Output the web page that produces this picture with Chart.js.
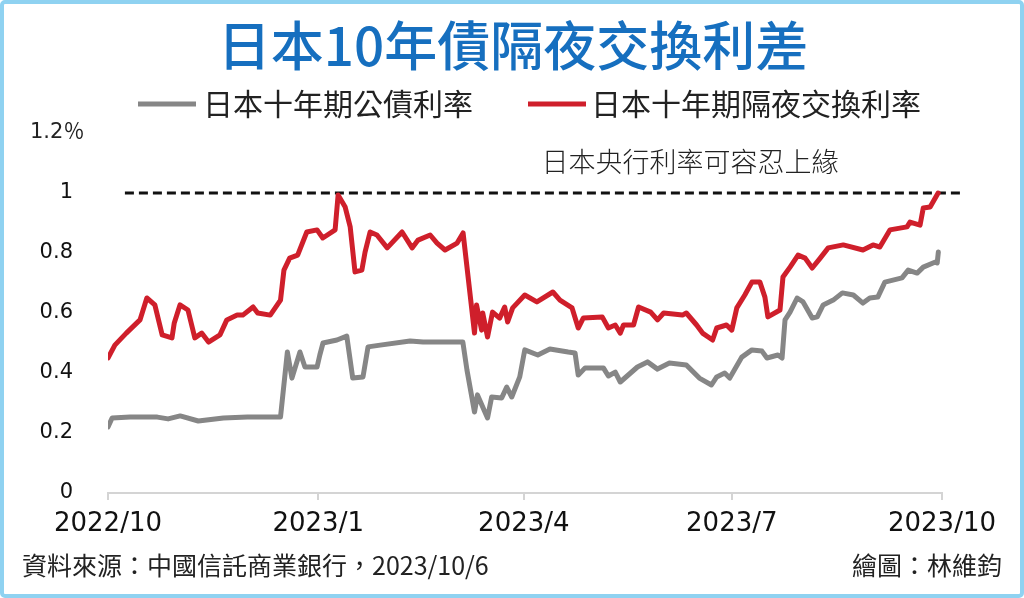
<!DOCTYPE html>
<html>
<head>
<meta charset="utf-8">
<script src="https://cdn.jsdelivr.net/npm/chart.js@4.4.0/dist/chart.umd.min.js"></script>
<style>
  html, body { margin: 0; padding: 0; background: #fff; overflow: hidden; }
  #wrap { position: relative; width: 1024px; height: 598px; }
  #frame {
    position: absolute; left: 0; top: 0; right: 0; bottom: 0;
    border: 4px solid #8fd2f1; border-radius: 5px; box-sizing: border-box;
    pointer-events: none;
  }
</style>
</head>
<body>
<div id="wrap">
  <canvas id="chart"></canvas>
  <div id="frame"></div>
</div>
<script>
const titleText = "日本10年債隔夜交換利差";
const seriesNames = ["日本十年期公債利率", "日本十年期隔夜交換利率"];
const capLabel = "日本央行利率可容忍上緣";
const sourceText = "資料來源：中國信託商業銀行，2023/10/6";
const authorText = "繪圖：林維鈞";

// x = days since 2022/10/1
const tickDays = [0, 92, 182, 273, 365];
const tickLabels = ["2022/10", "2023/1", "2023/4", "2023/7", "2023/10"];
const yTicks = [0, 0.2, 0.4, 0.6, 0.8, 1, 1.2];

// 日本十年期公債利率
const jgbDays = [0, 1.8, 9.7, 21.6, 26.3, 31.6, 39.5, 50.5, 61, 75.5, 78.5, 80.5, 84, 86.2, 91.5, 92.7, 94.1,
  100.2, 104.5, 107.1, 111.6, 113.8, 119.1, 132.2, 137.9, 155.3, 157.1, 160.4, 161.7, 166.1, 167.9, 172.3,
  174.5, 176.7, 180.2, 182.4, 188.1, 193.4, 201.4, 204.4, 205.8, 208.8, 216.8, 219, 222, 224.2, 228.7,
  231.7, 236.1, 240.5, 245.7, 253.1, 258.8, 264.1, 266.4, 269.9, 272.1, 277.4, 281.8, 286.2, 288.4, 293.2,
  295, 296.3, 298.5, 301.6, 304.2, 308.2, 310.4, 313, 317.4, 321.4, 326.2, 330.4, 333.4, 336.9, 340,
  347.5, 350.2, 354.1, 356.8, 362.1, 362.9, 363.4];
const jgbVals = [0.22, 0.25, 0.253, 0.253, 0.247, 0.257, 0.24, 0.25, 0.253, 0.253, 0.47, 0.383, 0.47, 0.42, 0.42, 0.46, 0.50,
  0.51, 0.523, 0.383, 0.387, 0.487, 0.493, 0.507, 0.503, 0.503, 0.41, 0.27, 0.327, 0.25, 0.32, 0.317,
  0.353, 0.32, 0.387, 0.477, 0.46, 0.48, 0.47, 0.467, 0.393, 0.417, 0.417, 0.39, 0.403, 0.37, 0.40,
  0.42, 0.437, 0.413, 0.433, 0.427, 0.383, 0.36, 0.387, 0.40, 0.383, 0.453, 0.477, 0.473, 0.45, 0.46,
  0.45, 0.577, 0.603, 0.65, 0.637, 0.583, 0.587, 0.627, 0.643, 0.667, 0.66, 0.633, 0.65, 0.653, 0.703,
  0.717, 0.743, 0.733, 0.753, 0.77, 0.767, 0.803];

// 日本十年期隔夜交換利率
const oisDays = [0, 3, 8, 14, 17, 20.5, 23.7, 28, 29, 31.5, 35, 38, 41, 44, 49, 52, 56.5, 59, 63.5, 65.5,
  71, 75.5, 77, 79.5, 83, 87, 91.5, 94, 99.4, 100.7, 103.8, 106, 108.1, 111.1, 112.5, 114.7, 117.7, 122.2,
  128.7, 133.1, 135.7, 141, 144, 147.5, 152.8, 155.4, 160.4, 161.3, 163.5, 164, 166.1, 168.3, 171.4, 173.6,
  174.9, 177.1, 182.4, 187.7, 194.7, 197.8, 203.1, 205.8, 208, 216.3, 219, 222, 224.2, 225.6, 230, 232.2,
  237.5, 240.5, 243.2, 251.4, 253.1, 257.6, 260.2, 264.6, 266.4, 270.7, 273, 275.2, 278.7, 281.8, 285.3,
  287.5, 288.8, 294.1, 295.4, 298.5, 302, 305.1, 308.2, 311.7, 315.2, 321.8, 330.4, 334.8, 337.8, 342.2,
  349.7, 351, 355.4, 356.8, 359.8, 363.3];
const oisVals = [0.45, 0.493, 0.533, 0.577, 0.65, 0.627, 0.527, 0.517, 0.567, 0.627, 0.61, 0.517, 0.533, 0.503, 0.527, 0.577, 0.593, 0.593, 0.62, 0.60,
  0.593, 0.643, 0.743, 0.783, 0.793, 0.87, 0.877, 0.85, 0.877, 0.993, 0.953, 0.887, 0.737, 0.743, 0.803, 0.87, 0.86, 0.817,
  0.87, 0.817, 0.843, 0.86, 0.833, 0.81, 0.833, 0.867, 0.533, 0.627, 0.543, 0.60, 0.52, 0.603, 0.583, 0.62,
  0.57, 0.617, 0.66, 0.637, 0.67, 0.643, 0.617, 0.55, 0.583, 0.587, 0.55, 0.56, 0.533, 0.56, 0.56, 0.62,
  0.603, 0.577, 0.60, 0.593, 0.60, 0.56, 0.533, 0.51, 0.55, 0.56, 0.543, 0.617, 0.66, 0.703, 0.703,
  0.653, 0.587, 0.61, 0.72, 0.753, 0.793, 0.783, 0.75, 0.783, 0.817, 0.827, 0.81, 0.827, 0.82, 0.877,
  0.887, 0.903, 0.893, 0.95, 0.953, 1.0];

// 可容忍上緣 1%
const capDays = [7.4, 374];
const capVals = [1, 1];

const GRAY = "#868686";
const RED = "#cf1f2b";

const toPoints = (xs, ys) => xs.map((x, i) => ({ x: x, y: ys[i] }));

const chrome = {
  id: "chrome",
  afterDraw(chart) {
    const ctx = chart.ctx;
    const y = chart.scales.y;
    ctx.save();

    // 標題
    ctx.fillStyle = "#166fbf";
    ctx.font = "500 53px 'Noto Sans CJK TC'";
    ctx.textAlign = "center";
    ctx.textBaseline = "middle";
    ctx.fillText(titleText, 513, 46);

    // 圖例
    const ds = chart.data.datasets;
    const legendX = [[138, 203], [528, 591]];
    ctx.font = "30px 'Noto Sans CJK TC'";
    ctx.textAlign = "left";
    for (let i = 0; i < 2; i++) {
      ctx.strokeStyle = ds[i].borderColor;
      ctx.lineWidth = 5;
      ctx.beginPath();
      ctx.moveTo(legendX[i][0], 104);
      ctx.lineTo(legendX[i][0] + 58, 104);
      ctx.stroke();
      ctx.fillStyle = "#222";
      ctx.fillText(ds[i].label, legendX[i][1], 104);
    }

    // 1.2% 刻度
    ctx.font = "21px 'DejaVu Sans', 'Noto Sans CJK TC'";
    ctx.fillStyle = "#222";
    ctx.fillText("1.2％", 30, y.getPixelForValue(1.2));

    // 上緣說明
    ctx.font = "300 27px 'Noto Sans CJK TC'";
    ctx.textAlign = "center";
    ctx.fillText(capLabel, 690, y.getPixelForValue(1) - 31);

    // 來源
    ctx.font = "25px 'Noto Sans CJK TC'";
    ctx.textAlign = "left";
    ctx.fillText(sourceText, 22, 565);
    ctx.textAlign = "right";
    ctx.fillText(authorText, 1002, 565);
    ctx.restore();
  }
};

new Chart(document.getElementById("chart"), {
  type: "line",
  data: {
    datasets: [
      {
        label: seriesNames[0],
        data: toPoints(jgbDays, jgbVals),
        borderColor: GRAY,
        borderWidth: 5,
        pointRadius: 0,
        tension: 0,
        borderJoinStyle: "round",
        borderCapStyle: "round"
      },
      {
        label: seriesNames[1],
        data: toPoints(oisDays, oisVals),
        borderColor: RED,
        borderWidth: 5,
        pointRadius: 0,
        tension: 0,
        borderJoinStyle: "round",
        borderCapStyle: "round"
      },
      {
        label: capLabel,
        data: toPoints(capDays, capVals),
        borderColor: "#111",
        borderWidth: 3,
        borderDash: [9, 5],
        pointRadius: 0,
        clip: false
      }
    ]
  },
  options: {
    responsive: true,
    maintainAspectRatio: false,
    animation: false,
    layout: { padding: { top: 133, right: 82, bottom: 0, left: 0 } },
    plugins: {
      legend: { display: false },
      title: { display: false },
      tooltip: { enabled: false }
    },
    scales: {
      x: {
        type: "linear",
        min: tickDays[0],
        max: tickDays[tickDays.length - 1],
        afterBuildTicks: (axis) => { axis.ticks = tickDays.map(v => ({ value: v })); },
        afterFit: (axis) => { axis.height = 105; },
        ticks: {
          autoSkip: false,
          maxRotation: 0,
          padding: 9,
          color: "#111",
          font: { family: "'DejaVu Sans'", size: 26 },
          callback: (v) => tickLabels[tickDays.indexOf(v)]
        },
        grid: { drawOnChartArea: false, color: "#d4d4d4", lineWidth: 2, tickLength: 7 },
        border: { color: "#d4d4d4", width: 2 }
      },
      y: {
        min: 0,
        max: 1.2,
        afterBuildTicks: (axis) => { axis.ticks = yTicks.map(v => ({ value: v })); },
        afterFit: (axis) => { axis.width = 108; },
        ticks: {
          padding: 35,
          color: "#111",
          font: { family: "'DejaVu Sans'", size: 21 },
          callback: (v) => (v >= 1.2 ? "" : String(Math.round(v * 10) / 10))
        },
        grid: { display: false, drawTicks: false },
        border: { display: false }
      }
    }
  },
  plugins: [chrome]
});
</script>
</body>
</html>
